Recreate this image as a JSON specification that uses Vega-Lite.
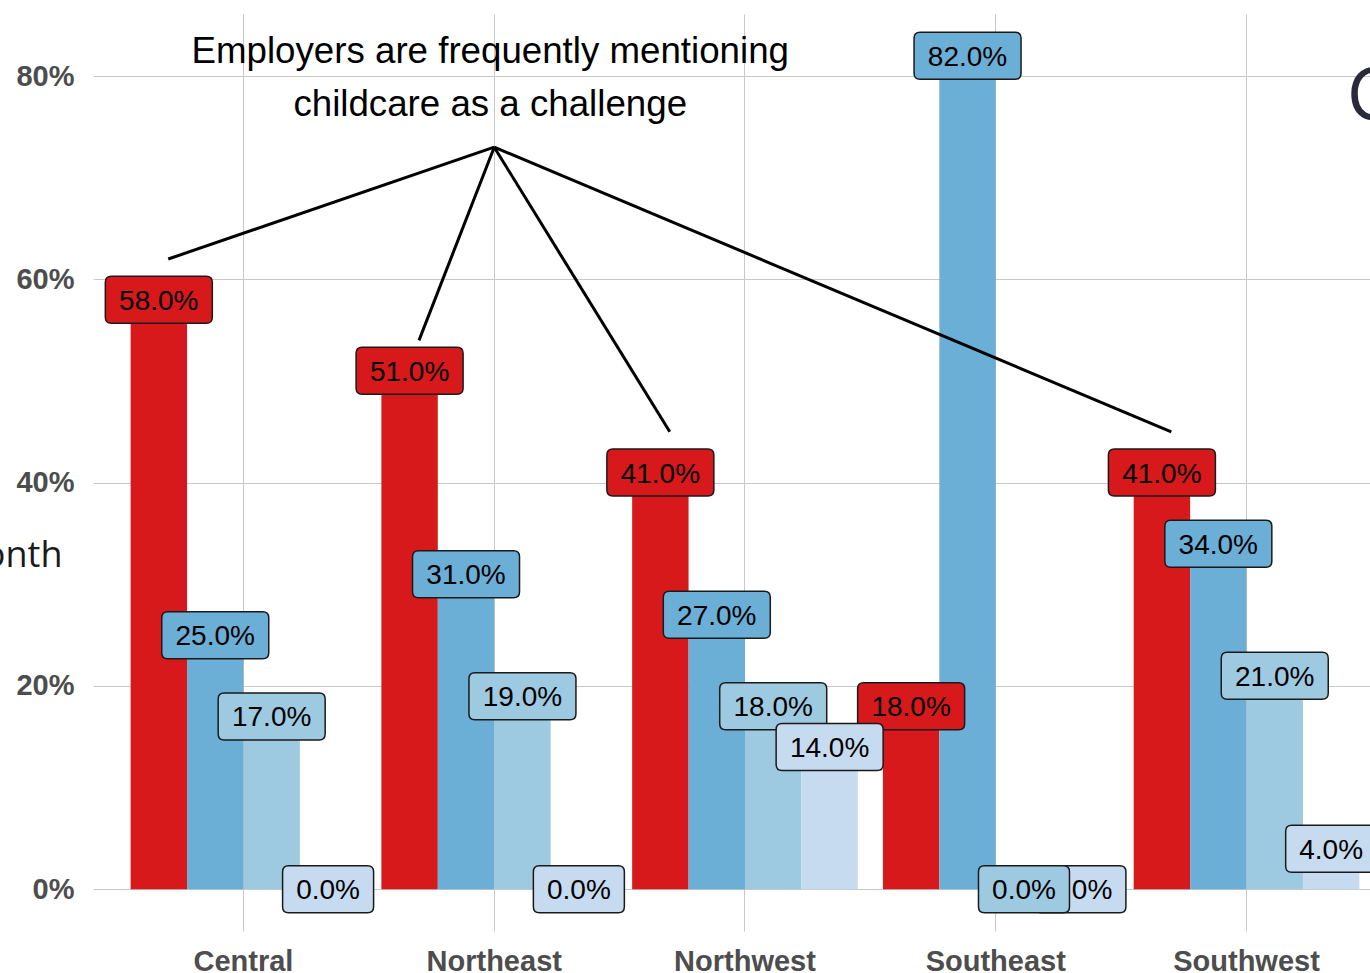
{
  "$schema": "https://vega.github.io/schema/vega-lite/v6.json",
  "autosize": {"type": "none"},
  "width": 1277,
  "height": 917,
  "padding": {"left": 93, "top": 14, "right": 0, "bottom": 42},
  "background": "white",
  "config": {"view": {"stroke": null}, "font": "Liberation Sans"},
  "datasets": {
    "bars": [
      {"region": "Central", "series": "Childcare", "value": 0.58},
      {"region": "Northeast", "series": "Childcare", "value": 0.51},
      {"region": "Northwest", "series": "Childcare", "value": 0.41},
      {"region": "Southeast", "series": "Childcare", "value": 0.18},
      {"region": "Southwest", "series": "Childcare", "value": 0.41},
      {"region": "Central", "series": "Transportation", "value": 0.25},
      {"region": "Northeast", "series": "Transportation", "value": 0.31},
      {"region": "Northwest", "series": "Transportation", "value": 0.27},
      {"region": "Southeast", "series": "Transportation", "value": 0.82},
      {"region": "Southwest", "series": "Transportation", "value": 0.34},
      {"region": "Central", "series": "Housing", "value": 0.17},
      {"region": "Northeast", "series": "Housing", "value": 0.19},
      {"region": "Northwest", "series": "Housing", "value": 0.18},
      {"region": "Southwest", "series": "Housing", "value": 0.21},
      {"region": "Central", "series": "Other", "value": 0.0},
      {"region": "Northeast", "series": "Other", "value": 0.0},
      {"region": "Northwest", "series": "Other", "value": 0.14},
      {"region": "Southeast", "series": "Other", "value": 0.0},
      {"region": "Southwest", "series": "Other", "value": 0.04},
      {"region": "Southeast", "series": "Housing", "value": 0.0}
    ],
    "lines": [
      {"x": 2, "y": 0.73, "x2": 0.7, "y2": 0.62},
      {"x": 2, "y": 0.73, "x2": 1.7, "y2": 0.54},
      {"x": 2, "y": 0.73, "x2": 2.7, "y2": 0.45},
      {"x": 2, "y": 0.73, "x2": 4.7, "y2": 0.45}
    ],
    "notes": [
      {"x": 2, "y": 0.8, "text": "Employers are frequently mentioning\nchildcare as a challenge"}
    ],
    "edge": [
      {"x": 5.4, "y": 0.757, "text": "C"}
    ]
  },
  "layer": [
    {
      "data": {"name": "bars"},
      "encoding": {
        "x": {
          "field": "region", "type": "nominal",
          "scale": {"domain": ["Central", "Northeast", "Northwest", "Southeast", "Southwest"], "range": [0, 1304], "paddingInner": 0.1, "paddingOuter": 0.15},
          "axis": {"title": null, "labelFontSize": 29, "labelFontWeight": "bold", "labelColor": "#4d4d4d", "labelFont": "Liberation Sans", "ticks": false, "tickSize": 0, "domain": false, "grid": true, "gridColor": "#c8c8c8", "gridWidth": 1, "labelPadding": 16, "bandPosition": 0.5, "labelAngle": 0}
        },
        "xOffset": {
          "field": "series", "type": "nominal",
          "scale": {"domain": ["Childcare", "Transportation", "Housing", "Other"], "paddingInner": 0, "paddingOuter": 0}
        },
        "y": {
          "field": "value", "type": "quantitative",
          "scale": {"domain": [-0.041, 0.861], "nice": false, "zero": false},
          "axis": {"title": "per month", "values": [0, 0.2, 0.4, 0.6, 0.8], "format": ".0%", "labelFontSize": 29, "labelFontWeight": "bold", "labelColor": "#4d4d4d", "labelFont": "Liberation Sans", "ticks": false, "tickSize": 0, "domain": false, "grid": true, "gridColor": "#c8c8c8", "gridWidth": 1, "labelPadding": 19, "titleAngle": 0, "titleAlign": "right", "titleBaseline": "alphabetic", "titleX": -31, "titleY": 552, "titleFont": "Open Sans", "titleFontSize": 36, "titleFontWeight": "normal", "titleColor": "#1a1a1a"}
        },
        "fill": {
          "field": "series", "type": "nominal",
          "scale": {"domain": ["Childcare", "Transportation", "Housing", "Other"], "range": ["#d7191c", "#6baed6", "#9ecae1", "#c6dbef"]},
          "legend": null
        }
      },
      "layer": [
        {"mark": {"type": "bar", "stroke": null}, "encoding": {"y2": {"datum": 0}}},
        {
          "transform": [{"filter": "datum.value >= 0.1"}],
          "mark": {"type": "point", "filled": true, "opacity": 1, "size": 10000, "stroke": "#1a1a1a", "strokeWidth": 1.5, "shape": "M-0.95,-0.47L0.95,-0.47Q1.07,-0.47,1.07,-0.35L1.07,0.35Q1.07,0.47,0.95,0.47L-0.95,0.47Q-1.07,0.47,-1.07,0.35L-1.07,-0.35Q-1.07,-0.47,-0.95,-0.47Z"}
        },
        {
          "transform": [{"filter": "datum.value < 0.1 && !(datum.region == 'Southeast' && datum.series == 'Housing')"}],
          "mark": {"type": "point", "filled": true, "opacity": 1, "size": 10000, "stroke": "#1a1a1a", "strokeWidth": 1.5, "shape": "M-0.79,-0.47L0.79,-0.47Q0.91,-0.47,0.91,-0.35L0.91,0.35Q0.91,0.47,0.79,0.47L-0.79,0.47Q-0.91,0.47,-0.91,0.35L-0.91,-0.35Q-0.91,-0.47,-0.79,-0.47Z"}
        },
        {
          "transform": [{"filter": "!(datum.region == 'Southeast' && datum.series == 'Housing')"}],
          "mark": {"type": "text", "fontSize": 28, "font": "Liberation Sans", "color": "#000000", "baseline": "middle", "align": "center", "dy": 2},
          "encoding": {"text": {"field": "value", "type": "quantitative", "format": ".1%"}, "fill": {"value": "#000000"}}
        },
        {
          "transform": [{"filter": "datum.region == 'Southeast' && datum.series == 'Housing'"}],
          "mark": {"type": "point", "filled": true, "opacity": 1, "size": 10000, "stroke": "#1a1a1a", "strokeWidth": 1.5, "shape": "M-0.79,-0.47L0.79,-0.47Q0.91,-0.47,0.91,-0.35L0.91,0.35Q0.91,0.47,0.79,0.47L-0.79,0.47Q-0.91,0.47,-0.91,0.35L-0.91,-0.35Q-0.91,-0.47,-0.79,-0.47Z"}
        },
        {
          "transform": [{"filter": "datum.region == 'Southeast' && datum.series == 'Housing'"}],
          "mark": {"type": "text", "fontSize": 28, "font": "Liberation Sans", "color": "#000000", "baseline": "middle", "align": "center", "dy": 2},
          "encoding": {"text": {"field": "value", "type": "quantitative", "format": ".1%"}, "fill": {"value": "#000000"}}
        }
      ]
    },
    {
      "layer": [
        {
          "data": {"name": "lines"},
          "mark": {"type": "rule", "color": "#000000", "strokeWidth": 3},
          "encoding": {
            "x": {"field": "x", "type": "quantitative", "scale": {"domain": [0.4, 5.6], "range": [0, 1304], "nice": false, "zero": false}, "axis": null},
            "x2": {"field": "x2"},
            "y": {"field": "y", "type": "quantitative", "title": "per month", "scale": {"domain": [-0.041, 0.861], "nice": false, "zero": false}},
            "y2": {"field": "y2"}
          }
        },
        {
          "data": {"name": "notes"},
          "mark": {"type": "text", "fontSize": 36.7, "font": "Liberation Sans", "color": "#000000", "lineHeight": 53, "align": "center", "baseline": "middle", "dx": -4, "dy": -24, "lineBreak": "\n"},
          "encoding": {
            "x": {"field": "x", "type": "quantitative", "scale": {"domain": [0.4, 5.6], "range": [0, 1304], "nice": false, "zero": false}, "axis": null},
            "y": {"field": "y", "type": "quantitative", "title": "per month", "scale": {"domain": [-0.041, 0.861], "nice": false, "zero": false}},
            "text": {"field": "text", "type": "nominal"}
          }
        },
        {
          "data": {"name": "edge"},
          "mark": {"type": "text", "fontSize": 74, "font": "Open Sans", "color": "#2a2a3a", "align": "left", "baseline": "alphabetic"},
          "encoding": {
            "x": {"field": "x", "type": "quantitative", "scale": {"domain": [0.4, 5.6], "range": [0, 1304], "nice": false, "zero": false}, "axis": null},
            "y": {"field": "y", "type": "quantitative", "title": "per month", "scale": {"domain": [-0.041, 0.861], "nice": false, "zero": false}},
            "text": {"field": "text", "type": "nominal"}
          }
        }
      ]
    }
  ],
  "resolve": {"scale": {"x": "independent"}}
}
